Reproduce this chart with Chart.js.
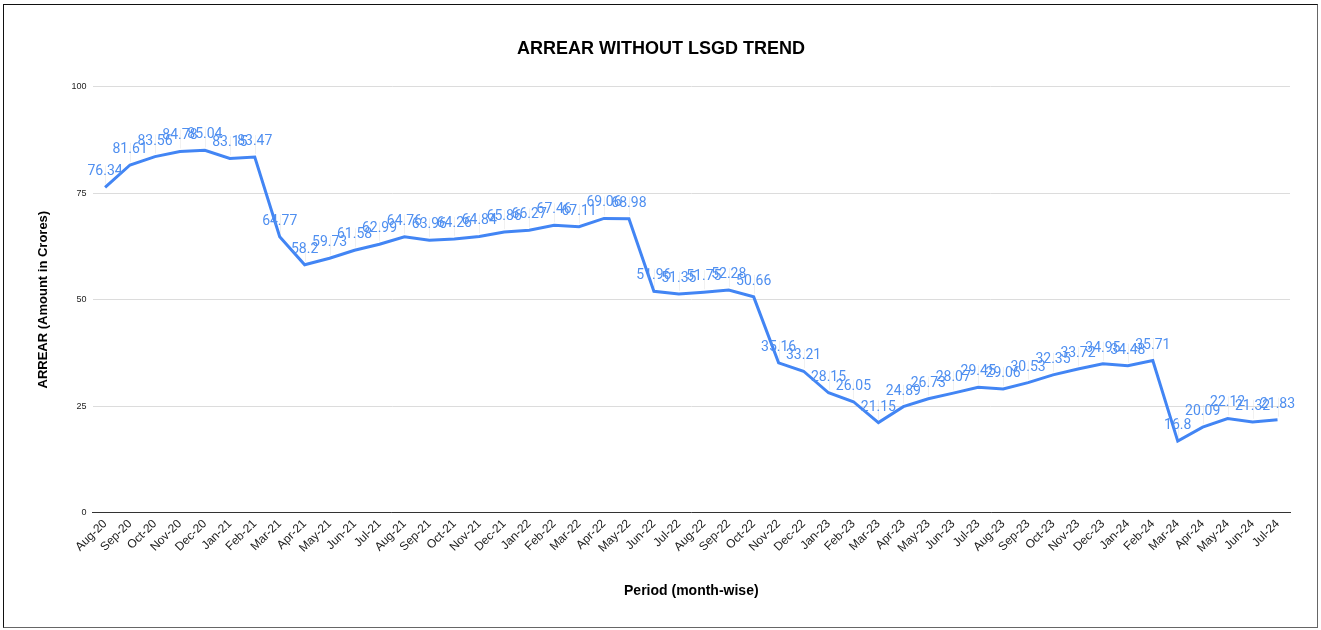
<!DOCTYPE html>
<html>
<head>
<meta charset="utf-8">
<script src="https://cdn.jsdelivr.net/npm/chart.js@4"></script>
<style>
    body { margin: 0; background: #fff; }
    #frame {
        position: absolute; left: 3px; top: 4px; width: 1313px; height: 622px;
        border: 1.5px solid #111; border-right-color: #666; border-bottom-color: #666;
    }
    #myChart { position: absolute; left: 0; top: 0; }
</style>
</head>
<body>
<div id="frame"></div>
<canvas id="myChart" width="1321" height="630"></canvas>
<script>
const months = ['Aug-20','Sep-20','Oct-20','Nov-20','Dec-20','Jan-21','Feb-21','Mar-21','Apr-21','May-21','Jun-21','Jul-21',
    'Aug-21','Sep-21','Oct-21','Nov-21','Dec-21','Jan-22','Feb-22','Mar-22','Apr-22','May-22','Jun-22','Jul-22',
    'Aug-22','Sep-22','Oct-22','Nov-22','Dec-22','Jan-23','Feb-23','Mar-23','Apr-23','May-23','Jun-23','Jul-23',
    'Aug-23','Sep-23','Oct-23','Nov-23','Dec-23','Jan-24','Feb-24','Mar-24','Apr-24','May-24','Jun-24','Jul-24'];

const arrear = [76.34, 81.61, 83.56, 84.78, 85.04, 83.15, 83.47, 64.77, 58.2, 59.73, 61.58, 62.99,
    64.76, 63.96, 64.26, 64.84, 65.86, 66.27, 67.46, 67.11, 69.06, 68.98, 51.96, 51.35,
    51.75, 52.28, 50.66, 35.16, 33.21, 28.15, 26.05, 21.15, 24.89, 26.73, 28.07, 29.45,
    29.06, 30.53, 32.35, 33.72, 34.95, 34.48, 35.71, 16.8, 20.09, 22.12, 21.32, 21.83];

const yTicks = [0, 25, 50, 75, 100];

// value labels above each point (no datalabels plugin offline)
const pointLabels = {
    id: 'pointLabels',
    afterDatasetsDraw(chart) {
        const ctx = chart.ctx;
        const meta = chart.getDatasetMeta(0);
        ctx.save();
        ctx.font = '14px Roboto';
        ctx.textAlign = 'center';
        ctx.textBaseline = 'alphabetic';
        meta.data.forEach((pt, i) => {
            ctx.strokeStyle = 'rgba(215,215,215,0.35)';
            ctx.lineWidth = 1;
            ctx.beginPath();
            ctx.moveTo(Math.round(pt.x) + 0.5, pt.y - 3);
            ctx.lineTo(Math.round(pt.x) + 0.5, pt.y - 22);
            ctx.stroke();
            ctx.fillStyle = '#4f8ff0';
            ctx.fillText(String(arrear[i]), pt.x, pt.y - 12);
        });
        ctx.restore();
    }
};

const ctx = document.getElementById('myChart').getContext('2d');
const myChart = new Chart(ctx, {
    type: 'line',
    data: {
        labels: months,
        datasets: [{
            data: arrear,
            borderColor: '#4285f4',
            borderWidth: 3,
            pointRadius: 0,
            tension: 0,
            fill: false
        }]
    },
    options: {
        responsive: false,
        animation: false,
        layout: { padding: { left: 32, right: 31, top: 18, bottom: 26 } },
        plugins: {
            legend: { display: false },
            tooltip: { enabled: false },
            title: {
                display: true,
                text: 'ARREAR WITHOUT LSGD TREND',
                color: '#000',
                font: { family: 'Arial', size: 18, weight: 'bold' },
                padding: { top: 20, bottom: 27 }
            }
        },
        scales: {
            x: {
                offset: true,
                grid: { display: false, drawTicks: false },
                border: { color: '#333', width: 1 },
                ticks: {
                    autoSkip: false,
                    minRotation: 45,
                    maxRotation: 45,
                    color: '#222',
                    padding: 4,
                    font: { family: 'Arial', size: 12 }
                },
                title: {
                    display: true,
                    text: 'Period (month-wise)',
                    color: '#000',
                    font: { family: 'Arial', size: 14, weight: 'bold' },
                    padding: { top: 24 }
                }
            },
            y: {
                min: 0,
                max: 100,
                afterBuildTicks(axis) { axis.ticks = yTicks.map(v => ({ value: v })); },
                grid: { color: '#dcdcdc', drawTicks: false },
                border: { display: false },
                ticks: {
                    color: '#222',
                    padding: 6,
                    font: { family: 'Arial', size: 9 }
                },
                title: {
                    display: true,
                    text: 'ARREAR (Amount in Crores)',
                    color: '#000',
                    font: { family: 'Arial', size: 13, weight: 'bold' },
                    padding: { bottom: 14 }
                }
            }
        }
    },
    plugins: [pointLabels]
});
</script>
</body>
</html>
